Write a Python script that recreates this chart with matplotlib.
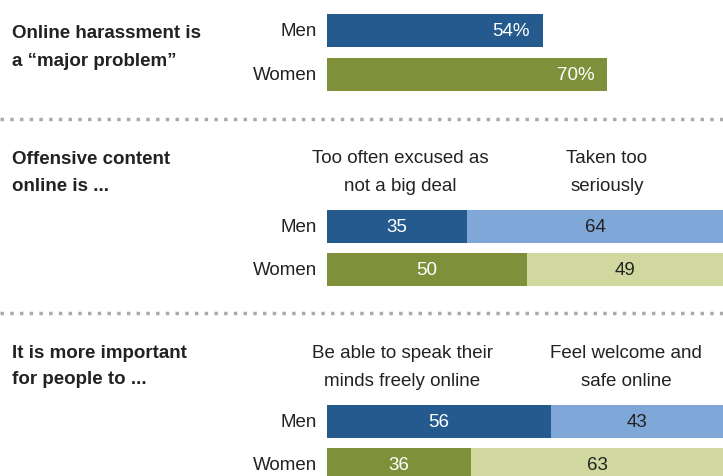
import matplotlib.pyplot as plt
from matplotlib.lines import Line2D

# data
groups = ["Men", "Women"]
harass = [54, 70]
offensive_excused = [35, 50]
offensive_serious = [64, 49]
speak_freely = [56, 36]
feel_safe = [43, 63]

dark = {"Men": "#255a8e", "Women": "#7e913a"}
light = {"Men": "#7fa8d9", "Women": "#d0d8a0"}

narrow = ["Liberation Sans Narrow", "Liberation Sans", "DejaVu Sans"]
bold = ["Liberation Sans", "DejaVu Sans"]
fs = 13.5

W, H = 723, 476
fig = plt.figure(figsize=(W / 100, H / 100), dpi=100)
x0 = 327
ax = fig.add_axes([x0 / W, 0, 1 - x0 / W, 1])
ax.set_xlim(0, 99)
ax.set_ylim(H, 0)
ax.axis("off")

bh = 33
rows = {
    "s1": [30.5, 74],
    "s2": [226.5, 269.5],
    "s3": [421.5, 464.5],
}

def label(x, y, s, color):
    ax.text(x, y + 1, s, ha="center", va="center", fontsize=fs,
            color=color, family=narrow)

# section 1
for i, g in enumerate(groups):
    y = rows["s1"][i]
    ax.barh(y, harass[i], height=bh, color=dark[g])
    ax.text(harass[i] - 3.2, y + 1, f"{harass[i]}%", ha="right", va="center",
            fontsize=fs, color="white", family=narrow)

# sections 2 and 3
for key, a, b in [("s2", offensive_excused, offensive_serious),
                  ("s3", speak_freely, feel_safe)]:
    for i, g in enumerate(groups):
        y = rows[key][i]
        ax.barh(y, a[i], height=bh, color=dark[g])
        ax.barh(y, b[i], left=a[i], height=bh, color=light[g])
        label(a[i] / 2, y, str(a[i]), "white")
        label(a[i] + b[i] / 2, y, str(b[i]), "#222222")

# row labels
for key in rows:
    for i, g in enumerate(groups):
        fig.text(317 / W, 1 - (rows[key][i] + 1) / H, g, ha="right",
                 va="center", fontsize=fs, color="#222222", family=narrow)

# section titles, one line at a time
titles = [(34, ["Online harassment is", "a \u201cmajor problem\u201d"]),
          (160, ["Offensive content", "online is ..."]),
          (353, ["It is more important", "for people to ..."])]
for y, lines in titles:
    for k, t in enumerate(lines):
        fig.text(12 / W, 1 - (y + 27 * k) / H, t, ha="left", va="center",
                 fontsize=13.5, fontweight="bold", color="#222222", family=bold)

# column headings
heads = [(400, 159, ["Too often excused as", "not a big deal"]),
         (607, 159, ["Taken too", "seriously"]),
         (402, 354, ["Be able to speak their", "minds freely online"]),
         (626, 354, ["Feel welcome and", "safe online"])]
for x, y, lines in heads:
    for k, t in enumerate(lines):
        fig.text(x / W, 1 - (y + 28 * k) / H, t, ha="center", va="center",
                 fontsize=fs, color="#222222", family=narrow)

# dotted separators
for y in [119, 313]:
    fig.add_artist(Line2D([0, 1], [1 - y / H] * 2, transform=fig.transFigure,
                          color="#aaaaaa", lw=2.5, linestyle=(0, (1, 1.8))))

fig.savefig("out.png", dpi=100)
